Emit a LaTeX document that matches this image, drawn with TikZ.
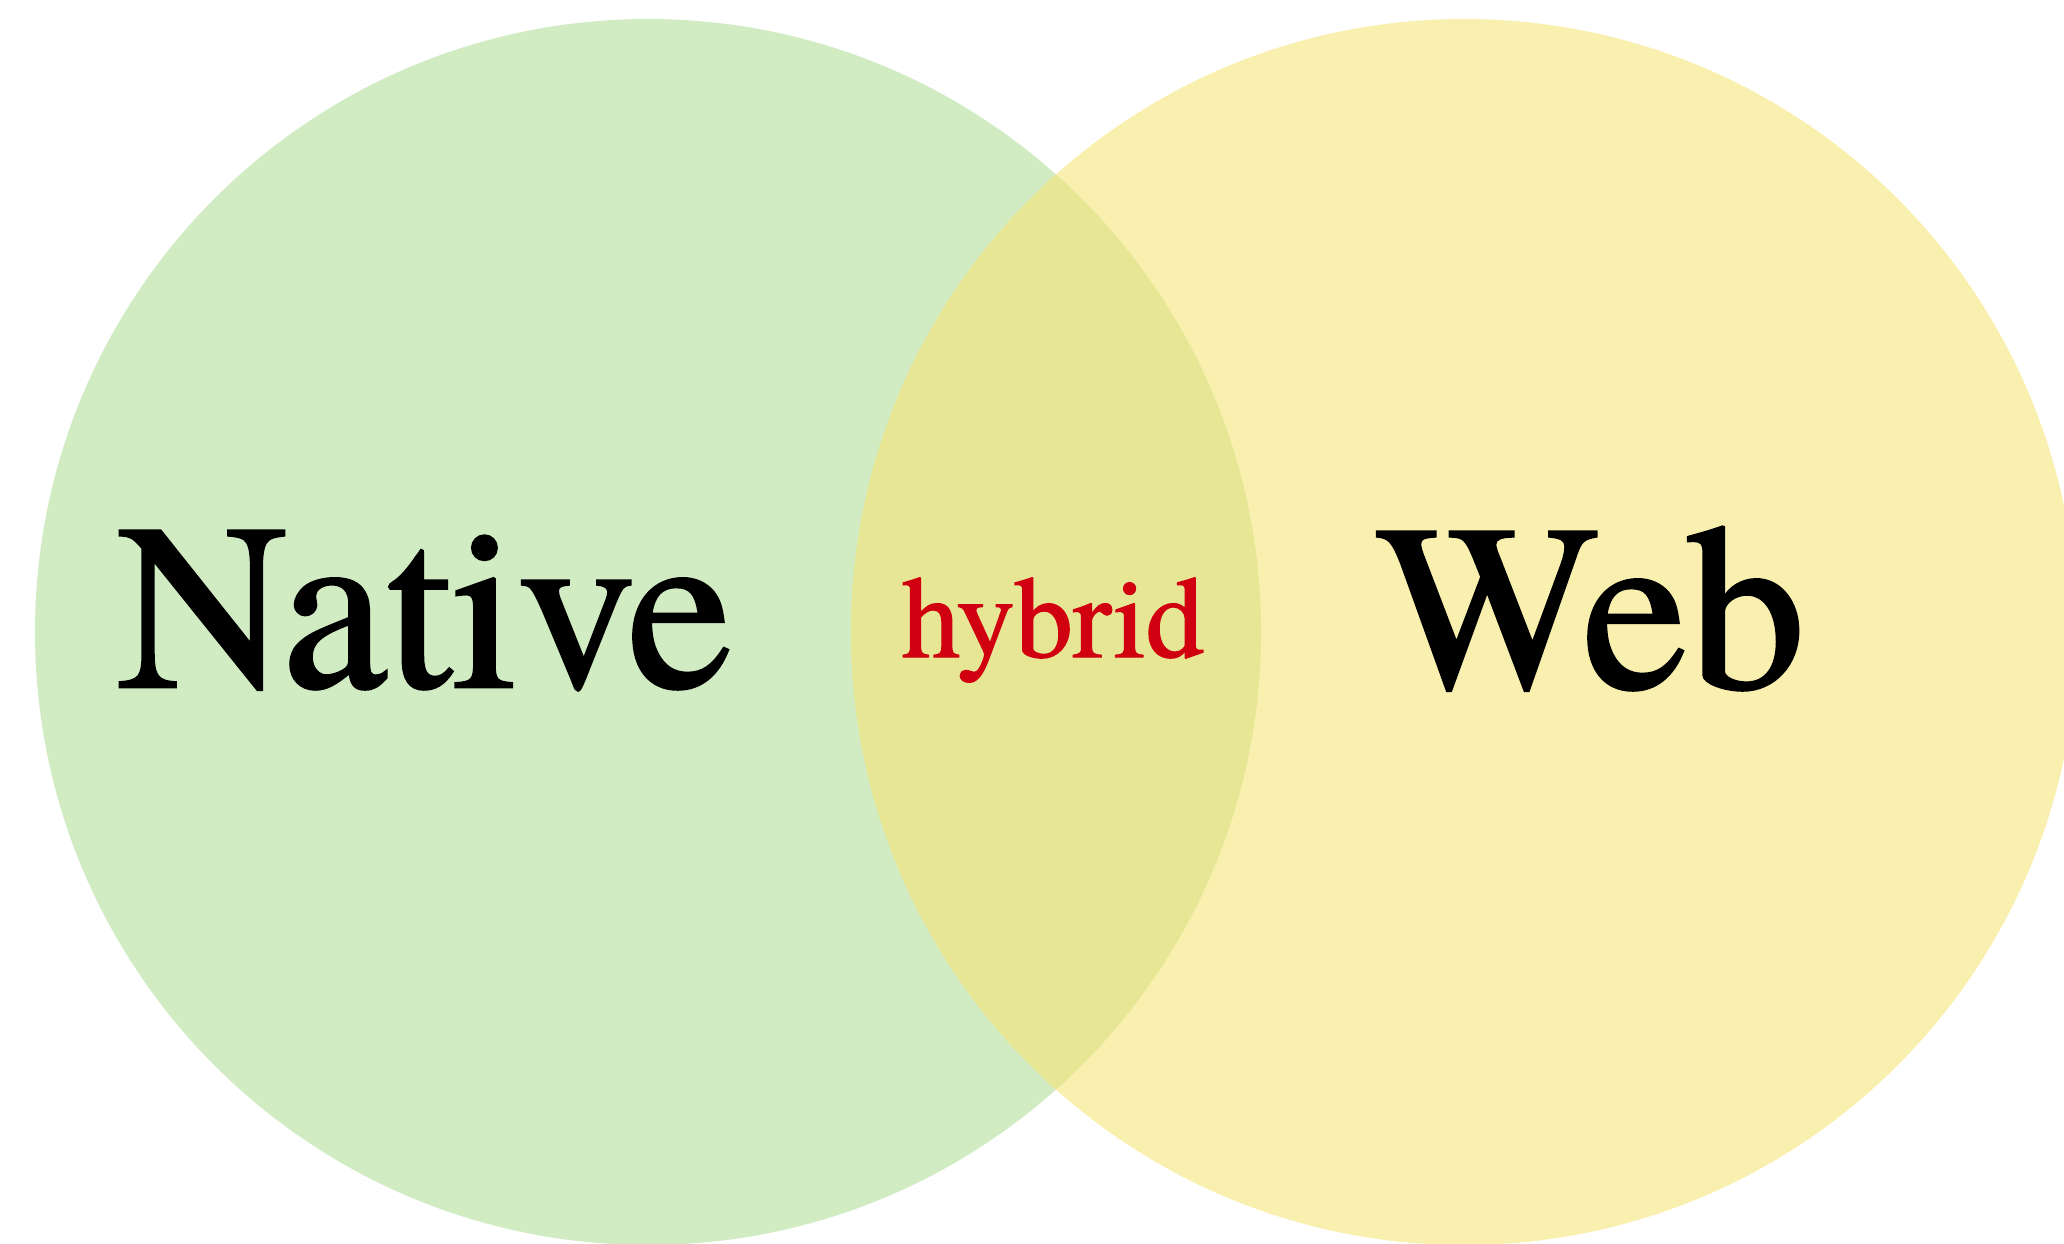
\documentclass[tikz,border=0pt]{standalone}
\usepackage{fontspec}
\setmainfont{TeX Gyre Termes}[FakeBold=1.2]
\definecolor{nativegreen}{RGB}{209,235,195}
\definecolor{webyellow}{RGB}{249,240,176}
\definecolor{hybridmix}{RGB}{230,230,148}
\definecolor{hybridred}{RGB}{208,0,16}
\tikzset{
  venn/.style={shape=circle,draw=none,inner sep=0pt,minimum size=1226pt},
  bigword/.style={anchor=base west,inner sep=0pt,font=\fontsize{236}{240}\selectfont\addfontfeature{FakeBold=1.2}},
}
\begin{document}
\begin{tikzpicture}[x=1pt,y=-1pt]
\useasboundingbox (0,0) rectangle (2064,1243);
\node[venn,fill=nativegreen] (native) at (648,632) {};
\node[venn,fill=webyellow] (web) at (1464,632) {};
\begin{scope}
\clip (native.center) circle (613pt);
\fill[hybridmix] (web.center) circle (613pt);
\end{scope}

\node[bigword] (nativetext) at (117,687) {Native};
\node[bigword] (webtext) at (1376,688) {Web};
\node[anchor=base west,inner sep=0pt,text=hybridred,font=\fontsize{116}{120}\selectfont\addfontfeature{FakeBold=1.2}] (hybridtext) at (902,657) {hybrid};
\end{tikzpicture}
\end{document}
